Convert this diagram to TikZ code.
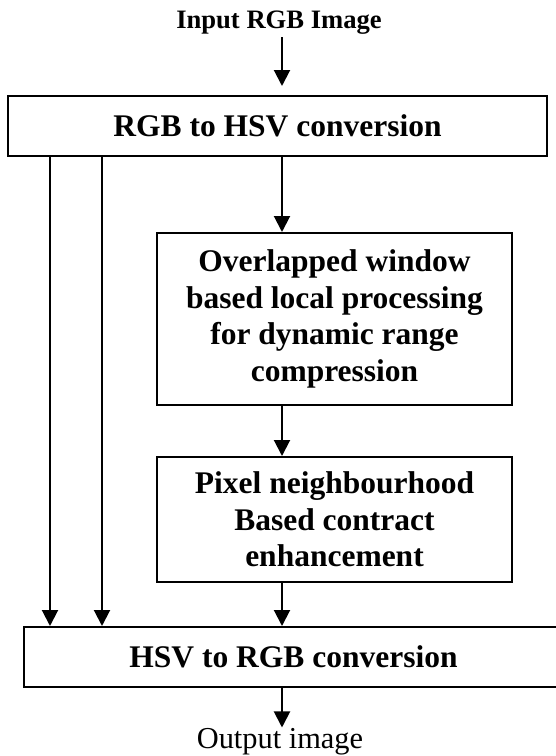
\documentclass[tikz,border=0pt]{standalone}
\usepackage{fontspec}
\setmainfont{Liberation Serif}
\usetikzlibrary{arrows.meta}

\begin{document}
\begin{tikzpicture}[x=0.5pt,y=-0.5pt]

% definitions
\tikzstyle{conversion} = [rectangle, minimum width=269.5pt, minimum height=30pt, inner sep=0pt, text centered, draw=black, line width=1pt, font=\fontsize{15.75}{18.35}\selectfont\bfseries]

\tikzstyle{process} = [rectangle, minimum width=177.5pt, inner sep=0pt, align=center, draw=black, line width=1pt, font=\fontsize{15.75}{18.35}\selectfont\bfseries]

\tikzstyle{io} = [inner sep=0pt, anchor=base]

\tikzstyle{arrow} = [-{Triangle[length=8pt,width=8pt]}, line width=1pt]

\useasboundingbox (0,0) rectangle (556,756);

% the graph
\node (in) [io, font=\fontsize{13.3}{16}\selectfont\bfseries] at (279,28) {Input RGB Image};

\node (c1) [conversion] at (277.5,126) {RGB to HSV conversion};

\node (p1) [process, minimum height=86pt] at (334.5,319) {Overlapped window\\based local processing\\for dynamic range\\compression};

\node (p2) [process, minimum height=62.5pt] at (334.5,519.5) {Pixel neighbourhood\\Based contract\\enhancement};

\node (c2) [conversion] at (293.5,657) {HSV to RGB conversion};

\node (out) [io, font=\fontsize{15.2}{18}\selectfont] at (280,748) {Output image};

% arrow columns
\coordinate (m) at (282,0);
\coordinate (a) at (50,0);
\coordinate (b) at (102,0);

\draw [arrow, shorten <=1.5pt, shorten >=4.5pt] (m |- in.south) -- (m |- c1.north);
\draw [arrow] (m |- c1.south) -- (m |- p1.north);
\draw [arrow] (m |- p1.south) -- (m |- p2.north);
\draw [arrow] (m |- p2.south) -- (m |- c2.north);
\draw [arrow] (a |- c1.south) -- (a |- c2.north);
\draw [arrow] (b |- c1.south) -- (b |- c2.north);
\draw [arrow] (m |- c2.south) -- (m |- out.north);

\end{tikzpicture}
\end{document}
